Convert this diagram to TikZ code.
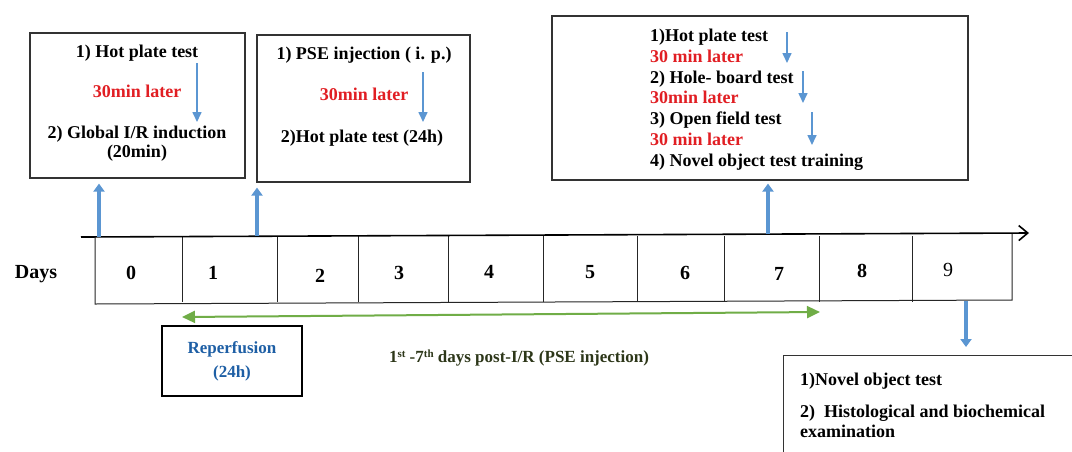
\documentclass[tikz,border=0pt]{standalone}
\usepackage{fontspec}
\setmainfont{Liberation Serif}
\usetikzlibrary{arrows.meta}
\definecolor{myred}{RGB}{225,30,35}
\definecolor{myblue}{RGB}{91,150,210}
\definecolor{mygreen}{RGB}{112,173,71}
\definecolor{reptext}{RGB}{30,95,165}
\definecolor{daytext}{RGB}{45,55,25}
\begin{document}
\begin{tikzpicture}[x=1pt,y=-1pt,
  frame/.style={draw=black!80, line width=1.2pt, inner sep=0pt},
  txt/.style={font=\fontsize{18}{21}\selectfont\bfseries, inner sep=0pt},
  redtxt/.style={txt, text=myred},
  thinarr/.style={draw=myblue, line width=1.6pt, -{Triangle[width=9pt,length=10pt]}},
  blockarr/.style={draw=myblue, line width=4pt, -{Triangle[width=11pt,length=8pt]}},
  greenarr/.style={draw=mygreen, line width=2pt, {Triangle[width=12pt,length=13pt]}-{Triangle[width=12pt,length=13pt]}},
  cellline/.style={draw=black!85, line width=1pt},
  daynum/.style={font=\fontsize{20}{22}\selectfont\bfseries, inner sep=0pt, anchor=base}
]
\clip (0,0) rectangle (1072,451);
\fill[white] (0,0) rectangle (1072,451);

% ---- Box 1
\node[frame, minimum width=215pt, minimum height=145pt] (b1) at (137.5,105.5) {};
\node[txt, anchor=base] (b1t1) at (137,57) {1) Hot plate test};
\node[redtxt, anchor=base] (b1t2) at (137,97) {30min later};
\node[txt, anchor=base] (b1t3) at (137,138) {2) Global I/R induction};
\node[txt, anchor=base] (b1t4) at (137,157) {(20min)};
\coordinate (b1a) at (197,63);
\coordinate (b1b) at (197,122);
\draw[thinarr] (b1a) -- (b1b);

% ---- Box 2
\node[frame, minimum width=213pt, minimum height=147pt] (b2) at (363.5,108.5) {};
\node[txt, anchor=base] (b2t1) at (364,59) {1) PSE injection ( i. p.)};
\node[redtxt, anchor=base] (b2t2) at (364,100) {30min later};
\node[txt, anchor=base] (b2t3) at (362,142) {2)Hot plate test (24h)};
\coordinate (b2a) at (423,72);
\coordinate (b2b) at (423,122);
\draw[thinarr] (b2a) -- (b2b);

% ---- Box 3
\node[frame, minimum width=416pt, minimum height=164pt] (b3) at (760,98) {};
\node[txt, anchor=base west] (b3t1) at (650,41) {1)Hot plate test};
\node[redtxt, anchor=base west] (b3t2) at (650,62) {30 min later};
\node[txt, anchor=base west] (b3t3) at (650,83) {2) Hole- board test};
\node[redtxt, anchor=base west] (b3t4) at (650,103) {30min later};
\node[txt, anchor=base west] (b3t5) at (650,124) {3) Open field test};
\node[redtxt, anchor=base west] (b3t6) at (650,145) {30 min later};
\node[txt, anchor=base west] (b3t7) at (650,166) {4) Novel object test training};
\coordinate (b3a1) at (787,32);
\coordinate (b3b1) at (787,63);
\coordinate (b3a2) at (803,71);
\coordinate (b3b2) at (803,103);
\coordinate (b3a3) at (812,112);
\coordinate (b3b3) at (812,145);
\draw[thinarr] (b3a1) -- (b3b1);
\draw[thinarr] (b3a2) -- (b3b2);
\draw[thinarr] (b3a3) -- (b3b3);

% ---- Timeline
\coordinate (tlstart) at (81,237);
\coordinate (tlend) at (1029,233);
\draw[cellline] (95,237) -- (95,304) -- (1012,300) -- (1012,234);
\foreach \xx in {182,277,358,448,543,637,724,819,912}
  \draw[cellline] (\xx,236) -- (\xx,302);
\draw[line width=1.6pt, -{Straight Barb[length=9pt,width=15pt,line width=1.6pt]}] (tlstart) -- (tlend);

\node[font=\fontsize{20}{22}\selectfont\bfseries, inner sep=0pt, anchor=base] (days) at (36,278) {Days};
\node[daynum] (d0) at (131,279) {0};
\node[daynum] (d1) at (213,279) {1};
\node[daynum] (d2) at (320,282) {2};
\node[daynum] (d3) at (399,279) {3};
\node[daynum] (d4) at (489,278) {4};
\node[daynum] (d5) at (590,278) {5};
\node[daynum] (d6) at (685,279) {6};
\node[daynum] (d7) at (779,280) {7};
\node[daynum] (d8) at (862,277) {8};
\node[daynum, font=\fontsize{20}{22}\selectfont] (d9) at (948,276) {9};

% ---- up arrows
\coordinate (u1) at (99,237);
\coordinate (u2) at (257,236);
\coordinate (u3) at (768,234);
\draw[blockarr, shorten >=5pt] (u1) -- (u1 |- b1.south);
\draw[blockarr, shorten >=5pt] (u2) -- (u2 |- b2.south);
\draw[blockarr, shorten >=3pt] (u3) -- (u3 |- b3.south);

% ---- green arrow
\coordinate (g1) at (182,317);
\coordinate (g2) at (820,312);
\draw[greenarr] (g1) -- (g2);

% ---- Reperfusion box
\node[draw=black, line width=2pt, minimum width=140pt, minimum height=70pt,
      align=center, text=reptext, font=\fontsize{17}{24}\selectfont\bfseries] (rep) at (232,361)
      {Reperfusion\\(24h)};

\node[font=\fontsize{17}{21}\selectfont\bfseries, text=daytext, inner sep=0pt, anchor=base] (post) at (519,362)
  {1{\fontsize{11}{11}\selectfont\raisebox{5pt}{st}} -7{\fontsize{11}{11}\selectfont\raisebox{5pt}{th}} days post-I/R (PSE injection)};

% ---- bottom box
\node[frame, anchor=north west, minimum width=330pt, minimum height=130pt] (b4) at (783,355) {};
\coordinate (d9a) at (966,301);
\draw[blockarr, shorten >=8pt] (d9a) -- (d9a |- b4.north);
\node[txt, anchor=base west] (b4t1) at (800,385) {1)Novel object test};
\node[txt, anchor=base west] (b4t2) at (800,417) {2) \ Histological and biochemical};
\node[txt, anchor=base west] (b4t3) at (800,437) {examination};
\end{tikzpicture}
\end{document}
